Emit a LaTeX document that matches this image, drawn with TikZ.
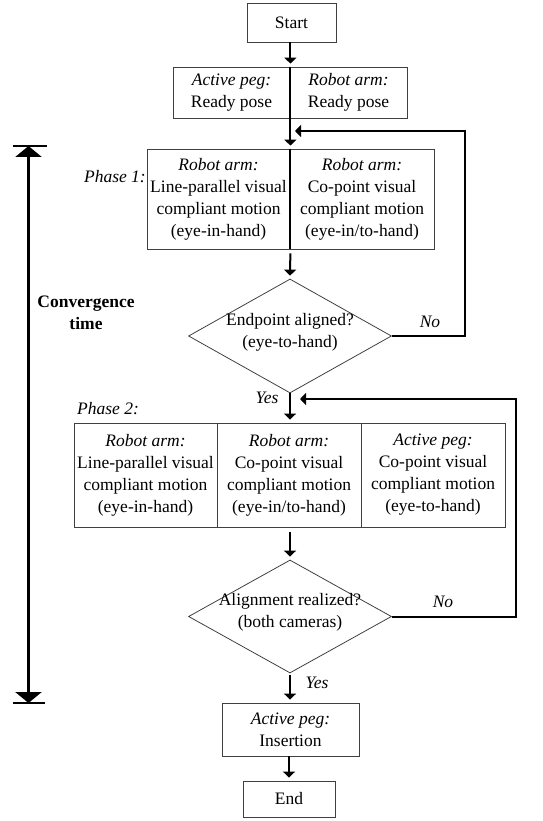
\documentclass[tikz,border=0pt]{standalone}
\usepackage{fontspec}
\setmainfont{Liberation Serif}
\usetikzlibrary{arrows.meta,shapes.geometric}
\newcommand{\diatext}[1]{\makebox[0pt]{\smash{\begin{tabular}{@{}c@{}}#1\end{tabular}}}}
\begin{document}
\begin{tikzpicture}[x=1pt,y=-1pt,
  font=\fontsize{17.5}{22}\selectfont,
  cell/.style={draw=black!75, line width=0.8pt, rectangle, inner sep=1pt, align=center},
  dia/.style={draw=black!75, line width=0.8pt, diamond, inner sep=0pt},
  flow/.style={line width=2pt, -{Triangle[length=6pt,width=12pt]}, shorten >=3pt},
  thickdiv/.style={line width=2pt},
  lbl/.style={font=\fontsize{17.5}{22}\selectfont\itshape, inner sep=0pt}]
\useasboundingbox (0,0) rectangle (542,821);
% boxes
\node[cell, minimum width=89pt, minimum height=39pt] (start) at (291.5,22.5) {Start};
\node[cell, minimum width=117pt, minimum height=51pt] (readyL) at (231.5,92.5) {\textit{Active peg:}\\Ready pose};
\node[cell, minimum width=117pt, minimum height=51pt] (readyR) at (348.5,92.5) {\textit{Robot arm:}\\Ready pose};
\node[cell, minimum width=143pt, minimum height=100pt] (p1L) at (218.5,199) {\textit{Robot arm:}\\Line-parallel visual\\compliant motion\\(eye-in-hand)};
\node[cell, minimum width=144pt, minimum height=100pt] (p1R) at (362,199) {\textit{Robot arm:}\\Co-point visual\\compliant motion\\(eye-in/to-hand)};
\node[dia, minimum width=203pt, minimum height=114pt] (d1) at (290,336) {\diatext{Endpoint aligned?\\(eye-to-hand)}};
\node[cell, minimum width=143pt, minimum height=104pt] (p2a) at (145.5,475) {\textit{Robot arm:}\\Line-parallel visual\\compliant motion\\(eye-in-hand)};
\node[cell, minimum width=144pt, minimum height=104pt] (p2b) at (289,475) {\textit{Robot arm:}\\Co-point visual\\compliant motion\\(eye-in/to-hand)};
\node[cell, minimum width=144pt, minimum height=104pt] (p2c) at (433,475) {\textit{Active peg:}\\Co-point visual\\compliant motion\\(eye-to-hand)};
\node[dia, minimum width=203pt, minimum height=113pt] (d2) at (290,616.5) {\diatext{Alignment realized?\\(both cameras)}};
\node[cell, minimum width=137pt, minimum height=53pt] (ins) at (290.5,729.5) {\textit{Active peg:}\\Insertion};
\node[cell, minimum width=92pt, minimum height=36pt] (end) at (289,799) {End};
% thick dividers
\draw[thickdiv] (readyL.north east) -- (readyL.south east);
\draw[thickdiv] (p1L.north east) -- (p1L.south east);
% flow arrows
\draw[flow] (readyL.north east |- start.south) -- (readyL.north east);
\draw[flow] (readyL.south east) -- (p1L.north east);
\draw[flow, shorten <=4pt] (p1L.south east) -- (d1.north);
\draw[flow] (d1.south) -- (d1.south |- p2b.north);
\draw[flow, shorten <=5pt] (d2.north |- p2b.south) -- (d2.north);
\draw[flow, shorten <=2pt] (d2.south) -- (d2.south |- ins.north);
\draw[flow] (end.north |- ins.south) -- (end.north);
% loops
\coordinate (l1) at (465,131);
\coordinate (l1end) at (295,131);
\coordinate (l2) at (516,399);
\coordinate (l2end) at (300,399);
\draw[flow, shorten >=0pt] (d1.east) -| (l1) -- (l1end);
\draw[flow, shorten >=0pt] (d2.east) -| (l2) -- (l2end);
% labels
\node[lbl] (no1) at (430,322) {No};
\node[lbl] (no2) at (443,602) {No};
\node[lbl] (yes1) at (267,398) {Yes};
\node[lbl] (yes2) at (317,683) {Yes};
\node[lbl, anchor=east] (ph1) at (146,177) {Phase 1:};
\node[lbl, anchor=west] (ph2) at (77,409) {Phase 2:};
\node[font=\fontsize{17.5}{22}\selectfont\bfseries, align=center, inner sep=0pt] (conv) at (86,313) {Convergence\\time};
% convergence time bar
\coordinate (ct) at (28.5,146);
\coordinate (cb) at (28.5,703);
\draw[line width=3pt, {Triangle[length=11pt,width=26pt]}-{Triangle[length=11pt,width=26pt]}] (ct) -- (cb);
\draw[line width=1.6pt] ([xshift=-16pt]ct) -- ([xshift=18pt]ct);
\draw[line width=1.6pt] ([xshift=-16pt]cb) -- ([xshift=16pt]cb);
\end{tikzpicture}
\end{document}
